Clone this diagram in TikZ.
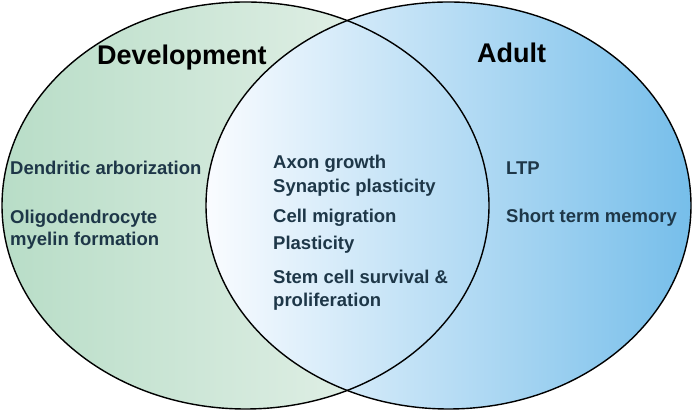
\documentclass[tikz,border=0pt]{standalone}
\usepackage{fontspec}
\setmainfont{Liberation Sans}
\definecolor{greenL}{RGB}{184,221,199}
\definecolor{greenR}{RGB}{238,245,240}
\definecolor{blueL}{RGB}{250,252,255}
\definecolor{blueR}{RGB}{118,190,234}
\definecolor{txt}{RGB}{30,55,72}
\tikzset{
  title/.style={anchor=base west, inner sep=0pt, font=\fontsize{27}{30}\selectfont\bfseries, text=black},
  item/.style={anchor=base west, inner sep=0pt, font=\fontsize{18.5}{22}\selectfont\bfseries, text=txt},
  rim/.style={draw=black, line width=1.4pt}
}
\begin{document}
\begin{tikzpicture}[x=1pt,y=1pt]
\useasboundingbox (0,0) rectangle (693,411);
% fills
\path[left color=greenL, right color=greenR] (245.5,205.5) ellipse [x radius=243.5, y radius=203.5];
\path[left color=blueL, right color=blueR] (448.5,205.5) ellipse [x radius=242.5, y radius=203.5];
% outlines
\draw[rim] (245.5,205.5) ellipse [x radius=243.5, y radius=203.5];
\draw[rim] (448.5,205.5) ellipse [x radius=242.5, y radius=203.5];
% titles
\node[title] (dev) at (97,346) {Development};
\node[title] (adult) at (477,348) {Adult};
% left
\node[item] (dendr) at (10,236) {Dendritic arborization};
\node[item] (oligo) at (10,187) {Oligodendrocyte};
\node[item] (myel) at (10,165) {myelin formation};
% center
\node[item] (axon) at (273,242) {Axon growth};
\node[item] (syn) at (273,218) {Synaptic plasticity};
\node[item] (cell) at (273,188) {Cell migration};
\node[item] (plast) at (273,161) {Plasticity};
\node[item] (stem) at (273,127) {Stem cell survival \&};
\node[item] (prolif) at (273,104) {proliferation};
% right
\node[item] (ltp) at (506,236) {LTP};
\node[item] (stm) at (506,188) {Short term memory};
\end{tikzpicture}
\end{document}
